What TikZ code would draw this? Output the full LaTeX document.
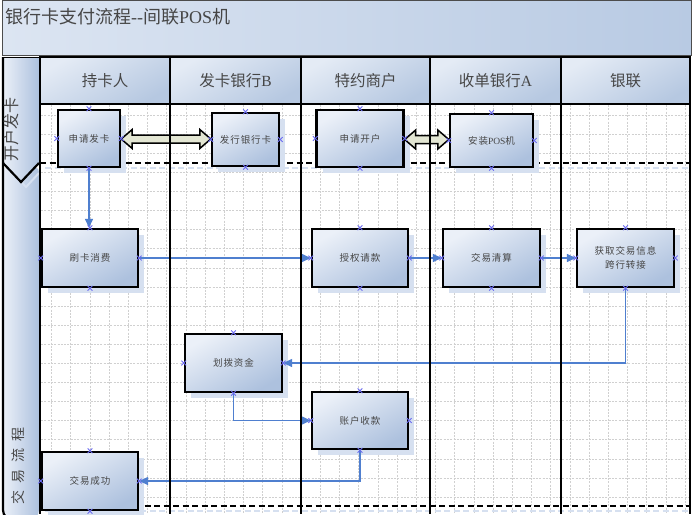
\documentclass[tikz,border=0pt]{standalone}
\usepackage{fontspec}
\newfontfamily\cjk{Noto Sans CJK SC}
\newfontfamily\cjkl[LetterSpace=10]{Noto Sans CJK SC}
\newfontfamily\lat{Liberation Serif}
\usetikzlibrary{arrows.meta,shapes.misc,calc}
\definecolor{titleL}{HTML}{DCE5F2}
\definecolor{titleR}{HTML}{B8CAE3}
\definecolor{boxL}{HTML}{EBF0F8}
\definecolor{boxD}{HTML}{ADC1DE}
\definecolor{hdrL}{HTML}{E4EBF5}
\definecolor{hdrD}{HTML}{B6C8E1}
\definecolor{shad}{HTML}{D6E0F0}
\definecolor{connc}{HTML}{4F7FCF}
\definecolor{mk}{HTML}{6A6AF0}
\definecolor{txt}{HTML}{464646}
\definecolor{gridc}{HTML}{D0D0D0}
\definecolor{dbl}{HTML}{E3E6D3}
\tikzset{
  box/.style={draw=black, line width=2.4pt, top color=boxL, bottom color=boxD, shading angle=30,
    font=\cjkl\fontsize{9.5}{14}\selectfont, text=txt, inner sep=0pt, align=center,
    preaction={fill=shad, transform canvas={shift={(6pt,-6pt)}}}},
  hdr/.style={draw=black, line width=2.4pt, top color=hdrL, bottom color=hdrD, shading angle=30,
    font=\cjk\fontsize{15.5}{16}\selectfont, text=txt, inner sep=0pt, minimum height=47pt},
  flow/.style={draw=connc, line width=1.4pt, -{Triangle[length=9pt,width=8pt]}},
  blockarr/.style={draw=black, fill=dbl, line width=1.5pt, line join=miter},
  cpmark/.style={cross out, draw=mk, minimum size=4pt, inner sep=0pt, line width=0.8pt},
  gridline/.style={draw=gridc, line width=0.55pt, dash pattern=on 2pt off 1.3pt},
  sep/.style={line width=2.2pt, dash pattern=on 6pt off 3.5pt},
  lanetxt/.style={text=txt, inner sep=0pt}
}
\begin{document}
\begin{tikzpicture}[x=1pt,y=-1pt]
\useasboundingbox (0,0) rectangle (693,514);
\fill[white] (0,0) rectangle (693,514);
% title band
\path[left color=titleL, right color=titleR, draw=black!70, line width=0.8pt] (2,0) rectangle (691,55);
\node[anchor=west, text=txt, font=\cjk\fontsize{18}{20}\selectfont, inner sep=0pt] (title) at (5,17)
  {银行卡支付流程{\lat -{}-}间联{\lat POS}机};
% left lane strips
\path[left color=boxL, right color=boxD] (3,57) -- (39,57) -- (39,163) -- (21,182) -- (3,163) -- cycle;
\path[left color=boxL, right color=boxD, rounded corners=10pt] (3,163) -- (21,182) -- (39,163) -- (39,520) -- (3,520) -- cycle;
\draw[black, line width=0.8pt] (3,57) -- (39,57);
\draw[black, line width=2.2pt, rounded corners=10pt] (3,57) -- (3,520) -- (39,520);
\draw[shad, line width=2pt] (8,168) -- (26,187) -- (39,173);
\draw[black, line width=2.2pt] (3,163) -- (21,182) -- (39,163);
\node[lanetxt, rotate=90, font=\cjk\fontsize{16}{16}\selectfont] (lane1) at (11,129) {开户发卡};
\node[lanetxt, rotate=90, font=\cjk\fontsize{14}{14}\selectfont] (lane2) at (18,466)
  {交\hspace{7pt}易\hspace{7pt}流\hspace{7pt}程};
% grid
\begin{scope}
\clip (41,105) rectangle (689,514);
\foreach \i in {0,...,33} \draw[gridline] ({51.5+19.2*\i},105) -- ({51.5+19.2*\i},514);
\foreach \j in {0,...,21} \draw[gridline] (41,{115+19.1*\j}) -- (689,{115+19.1*\j});
\end{scope}
% phase separators
\draw[sep, draw=shad] (45,168) -- (690,168);
\draw[sep, draw=shad] (45,511) -- (690,511);
\draw[sep] (40,163) -- (690,163);
\draw[sep] (40,506) -- (690,506);
% boxes
\node[box, minimum width=62pt, minimum height=57pt] (A1) at (89,138.5) {申请发卡};
\node[box, minimum width=67pt, minimum height=53pt] (B1) at (245.5,139.5) {发行银行卡};
\node[box, minimum width=87pt, minimum height=57pt] (C1) at (360,138.5) {申请开户};
\node[box, minimum width=83pt, minimum height=53pt] (D1) at (491.5,140.5) {安装{\lat POS}机};
\node[box, minimum width=96pt, minimum height=58pt] (A2) at (90,258) {刷卡消费};
\node[box, minimum width=96pt, minimum height=58pt] (C2) at (360,258) {授权请款};
\node[box, minimum width=97pt, minimum height=58pt] (D2) at (491.5,258) {交易清算};
\node[box, minimum width=97pt, minimum height=58pt] (E2) at (625.5,258) {获取交易信息\\跨行转接};
\node[box, minimum width=97pt, minimum height=58pt] (B3) at (233.5,363) {划拨资金};
\node[box, minimum width=96pt, minimum height=57pt] (C3) at (360,420.5) {账户收款};
\node[box, minimum width=96pt, minimum height=58pt] (A4) at (90,481) {交易成功};
% block double arrows
\foreach \s/\t in {A1/B1, C1/D1}
  \path[blockarr] let \p1=(\s.east), \p2=(\t.west), \n1={(\y1+\y2)/2} in
    (\x1,\n1) -- (\x1+11pt,\n1+9.5pt) -- (\x1+11pt,\n1+4pt) -- (\x2-11pt,\n1+4pt)
    -- (\x2-11pt,\n1+9.5pt) -- (\x2,\n1) -- (\x2-11pt,\n1-9.5pt) -- (\x2-11pt,\n1-4pt)
    -- (\x1+11pt,\n1-4pt) -- (\x1+11pt,\n1-9.5pt) -- cycle;
% flow connectors
\draw[flow] (A1.south) -- (A1.south |- A2.north);
\draw[flow] (A2.east) -- (C2.west);
\draw[flow] (C2.east) -- (D2.west);
\draw[flow] (D2.east) -- (E2.west);
\draw[flow] (E2.south) |- (B3.east);
\draw[flow] (B3.south) |- (C3.west);
\draw[flow] (C3.south) |- (A4.east);
% column lines
\foreach \x in {40,170,301,430,561,690} \draw[line width=2.6pt] (\x,57) -- (\x,514);
% headers
\node[hdr, minimum width=130pt] (h1) at (105,80.5) {持卡人};
\node[hdr, minimum width=131pt] (h2) at (235.5,80.5) {发卡银行{\lat B}};
\node[hdr, minimum width=129pt] (h3) at (365.5,80.5) {特约商户};
\node[hdr, minimum width=131pt] (h4) at (495.5,80.5) {收单银行{\lat A}};
\node[hdr, minimum width=129pt] (h5) at (625.5,80.5) {银联};
% connection point markers
\foreach \n in {A1,B1,C1,D1,A2,C2,D2,E2,B3,C3,A4}
  \foreach \a in {north,south,east,west}
    \node[cpmark] (\n-\a) at (\n.\a) {};
\end{tikzpicture}
\end{document}
